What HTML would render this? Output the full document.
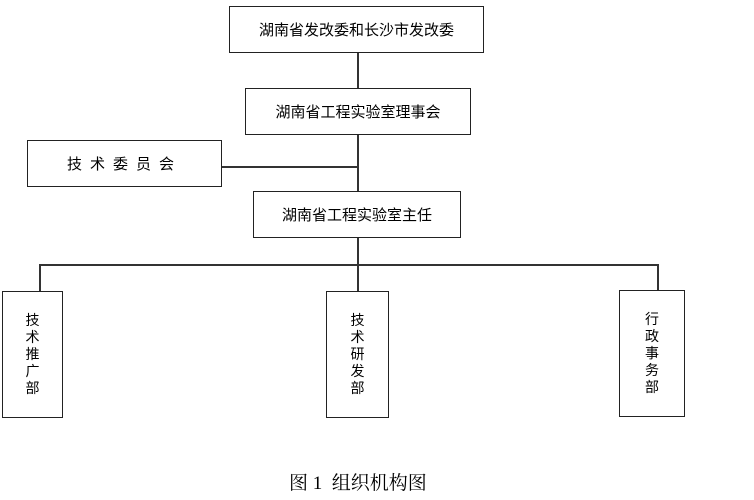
<!DOCTYPE html>
<html><head><meta charset="utf-8"><style>
body{margin:0;width:754px;height:500px;background:#fff;position:relative;overflow:hidden;font-family:"Liberation Sans","Noto Sans CJK SC",sans-serif;color:#000}
.b{position:absolute;border:1.5px solid #222;box-sizing:border-box;display:flex;align-items:center;justify-content:center;font-size:15px;background:#fff;z-index:2}
.v{flex-direction:column;font-size:14px;line-height:17px}
.l{position:absolute;background:#333;z-index:1}
</style></head><body>
<div class="b" style="left:229px;top:6px;width:255px;height:47px">湖南省发改委和长沙市发改委</div>
<div class="b" style="left:245px;top:88px;width:226px;height:47px">湖南省工程实验室理事会</div>
<div class="b" style="left:27px;top:140px;width:195px;height:47px;letter-spacing:8px">技术委员会</div>
<div class="b" style="left:253px;top:191px;width:208px;height:47px">湖南省工程实验室主任</div>
<div class="l" style="left:357px;top:53px;width:1.5px;height:239px"></div>
<div class="l" style="left:222px;top:166px;width:136px;height:1.5px"></div>
<div class="l" style="left:39px;top:264px;width:619px;height:1.5px"></div>
<div class="l" style="left:39px;top:264px;width:1.5px;height:28px"></div>
<div class="l" style="left:657px;top:264px;width:1.5px;height:27px"></div>
<div class="b v" style="left:2px;top:291px;width:61px;height:127px"><span>技</span><span>术</span><span>推</span><span>广</span><span>部</span></div>
<div class="b v" style="left:326px;top:291px;width:63px;height:127px"><span>技</span><span>术</span><span>研</span><span>发</span><span>部</span></div>
<div class="b v" style="left:619px;top:290px;width:66px;height:127px"><span>行</span><span>政</span><span>事</span><span>务</span><span>部</span></div>
<div style="position:absolute;left:289px;top:468px;font-size:19px;font-family:'Liberation Serif','Noto Serif CJK SC',serif;white-space:nowrap">图 1&nbsp; 组织机构图</div>
</body></html>
